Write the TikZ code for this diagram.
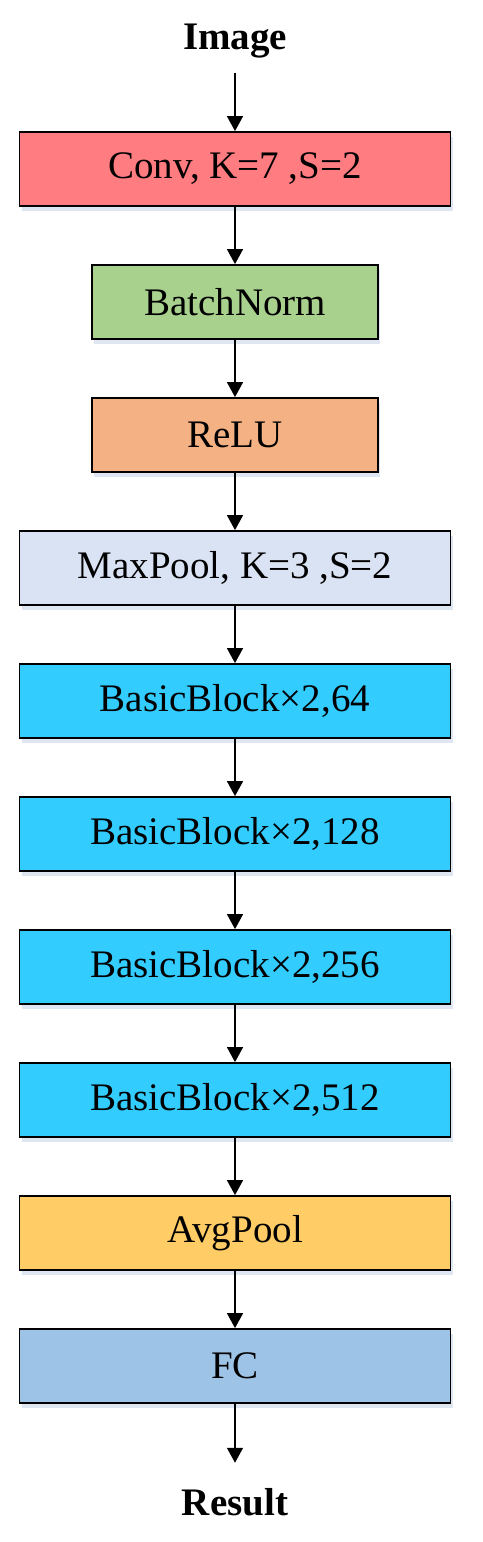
\documentclass[tikz,border=0pt]{standalone}
\usepackage{fontspec}
\setmainfont{Liberation Serif}
\usetikzlibrary{arrows.meta,shadows}
\definecolor{convred}{HTML}{FF7C80}
\definecolor{bngreen}{HTML}{A9D18E}
\definecolor{reluorange}{HTML}{F4B183}
\definecolor{poolgray}{HTML}{DAE3F3}
\definecolor{blockcyan}{HTML}{33CCFF}
\definecolor{avgyellow}{HTML}{FFCC66}
\definecolor{fcblue}{HTML}{9DC3E6}
\definecolor{shadowblue}{HTML}{9FB8D8}
\tikzset{
  layerbox/.style={draw=black, line width=1.8pt, minimum height=74pt, inner sep=0pt,
    font=\fontsize{39}{46}\selectfont,
    drop shadow={fill=shadowblue, opacity=0.35, shadow xshift=2pt, shadow yshift=-5pt}},
  widebox/.style={layerbox, minimum width=431pt},
  narrowbox/.style={layerbox, minimum width=286pt},
  iolabel/.style={font=\fontsize{39}{46}\selectfont\bfseries, inner xsep=0pt, anchor=base},
  flow/.style={-{Triangle[width=16pt,length=15pt]}, line width=1.5pt}
}
\begin{document}
\begin{tikzpicture}[x=1pt,y=-1pt]
\useasboundingbox (0,0) rectangle (482,1542);
\node[iolabel, inner ysep=15.5pt] (img) at (235,49) {Image};
\node[widebox, fill=convred] (conv) at (235,169) {Conv, K=7 ,S=2};
\node[narrowbox, fill=bngreen] (bn) at (235,302) {BatchNorm};
\node[narrowbox, fill=reluorange] (relu) at (235,435) {ReLU};
\node[widebox, fill=poolgray] (maxpool) at (235,568) {MaxPool, K=3 ,S=2};
\foreach \ch/\y [count=\i] in {64/701,128/834,256/967,512/1100}
\node[widebox, fill=blockcyan] (bb\i) at (235,\y) {BasicBlock×2,\ch};
\node[widebox, fill=avgyellow] (avgpool) at (235,1233) {AvgPool};
\node[widebox, fill=fcblue] (fc) at (235,1366) {FC};
\node[iolabel, inner ysep=25pt] (res) at (235,1515) {Result};
\foreach \a/\b in {img/conv,conv/bn,bn/relu,relu/maxpool,maxpool/bb1,bb1/bb2,bb2/bb3,bb3/bb4,bb4/avgpool,avgpool/fc,fc/res}
\draw[flow] (\a) -- (\b);
\end{tikzpicture}
\end{document}
